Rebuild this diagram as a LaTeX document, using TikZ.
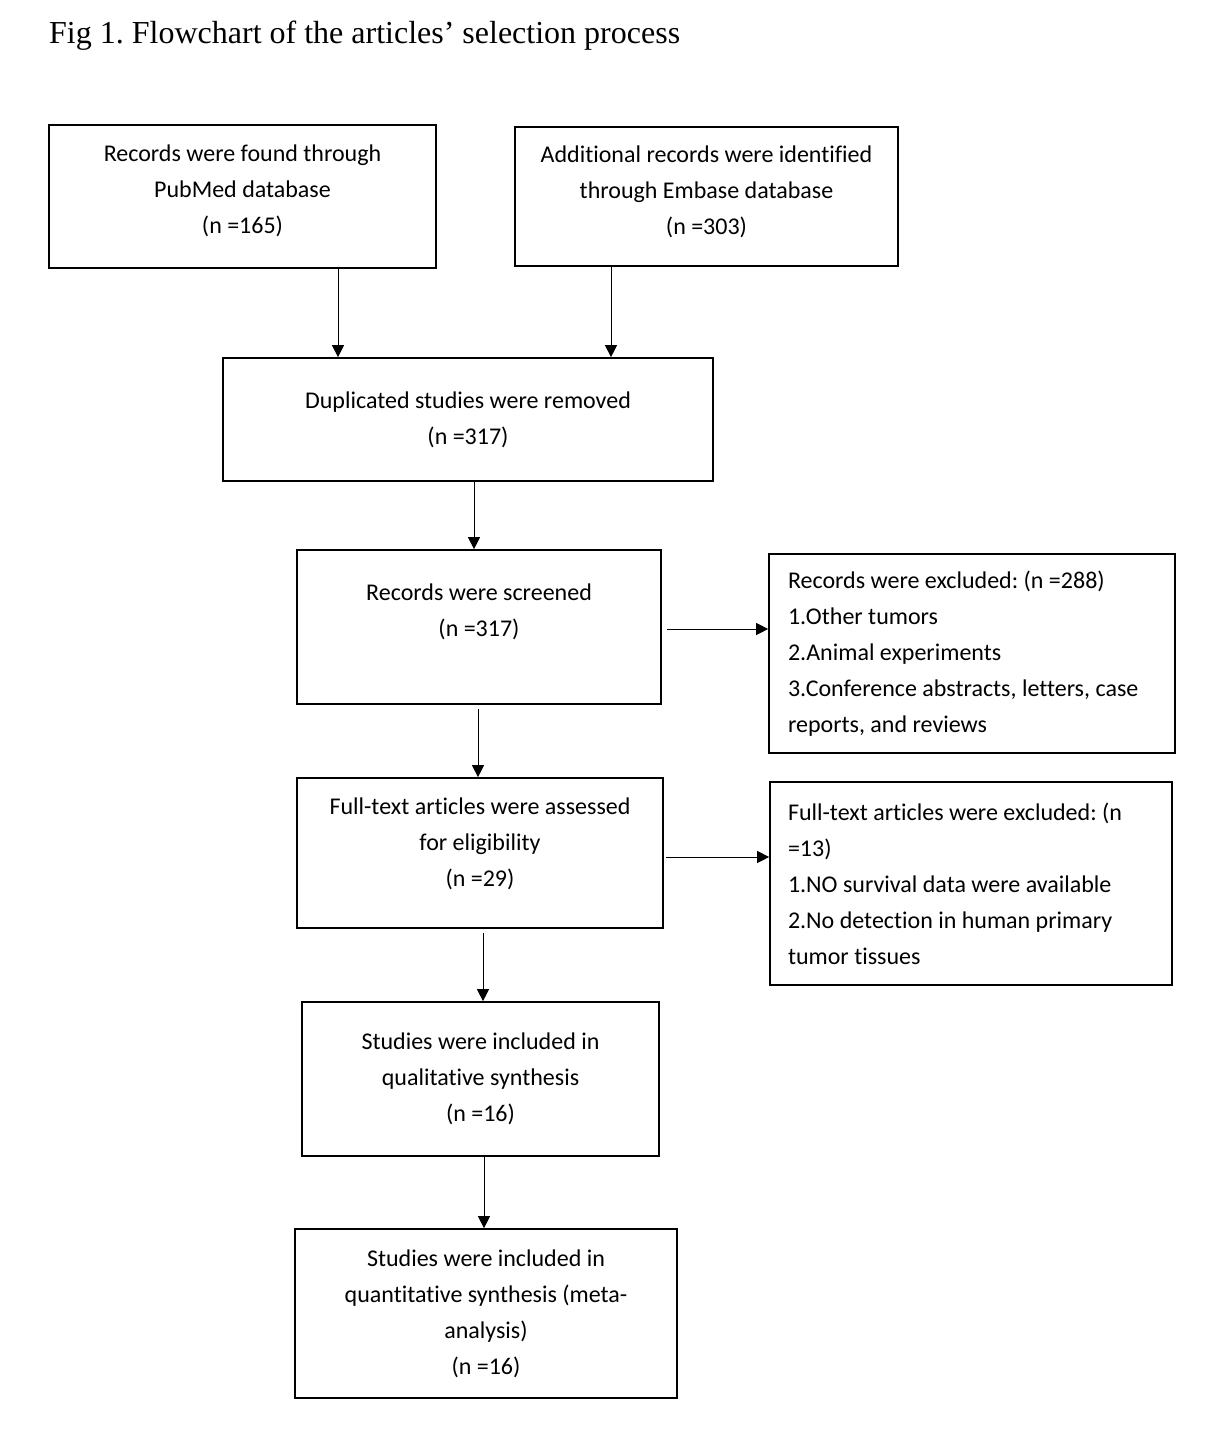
\documentclass[tikz,border=0pt]{standalone}
\usepackage{fontspec}
\setmainfont{Carlito}[Ligatures=NoCommon]
\newfontfamily\titlefont{Liberation Serif}
\usetikzlibrary{shapes,arrows,arrows.meta,positioning,calc}
\frenchspacing

\begin{document}
\begin{tikzpicture}[x=1pt, y=-1pt]
    \tikzstyle{record} = [rectangle, draw, line width=1.7pt, align=center, font=\fontsize{24}{36}\selectfont, inner sep=0pt]
    \tikzstyle{excluded} = [rectangle, draw, line width=1.7pt, align=flush left, font=\fontsize{24}{36}\selectfont, inner xsep=19pt, inner ysep=0pt]
    \tikzstyle{arrow} = [draw, -{Triangle[length=12pt,width=12pt]}, line width=1pt]

    \useasboundingbox (0,0) rectangle (1204,1455);

    % Title
    \node[anchor=base west, inner sep=0pt, font=\titlefont\fontsize{32}{36}\selectfont] (title) at (49,44) {Fig 1. Flowchart of the articles’ selection process};

    % Sources
    \node[record, minimum width=387pt, minimum height=143pt] (pubmed) at (242.5,196.5) {Records were found through\\PubMed database\\(n =165)\\[-21pt]\mbox{}};
    \node[record, minimum width=383pt, minimum height=139pt] (embase) at (706.5,196.5) {Additional records were identified\\through Embase database\\(n =303)\\[-24pt]\mbox{}};

    % Duplicates
    \node[record, minimum width=490pt, minimum height=123pt] (dedup) at (468,419.5) {Duplicated studies were removed\\(n =317)};

    % Screening
    \node[record, minimum width=364pt, minimum height=154pt] (screen) at (479,627) {Records were screened\\(n =317)\\[-2pt]\mbox{}};
    \node[excluded, text width=368pt, minimum height=199pt] (screenout) at (972,653.5) {Records were excluded: (n =288)\\1.Other tumors\\2.Animal experiments\\3.Conference abstracts, letters, case\\reports, and reviews};

    % Eligibility
    \node[record, minimum width=366pt, minimum height=150pt] (fulltext) at (480,853) {Full-text articles were assessed\\for eligibility\\(n =29)\\[-14pt]\mbox{}};
    \node[excluded, inner xsep=18pt, text width=366pt, minimum height=203pt] (fulltextout) at (971,883.5) {Full-text articles were excluded: (n\\=13)\\1.NO survival data were available\\2.No detection in human primary\\tumor tissues};

    % Included
    \node[record, minimum width=357pt, minimum height=154pt] (qualitative) at (480.5,1079) {Studies were included in\\qualitative synthesis\\(n =16)};
    \node[record, minimum width=382pt, minimum height=169pt] (quantitative) at (486,1313.5) {Studies were included in\\quantitative synthesis (meta-\\analysis)\\(n =16)};

    % Arrows
    \draw[arrow] ([xshift=95.5pt]pubmed.south) -- ([xshift=95.5pt]pubmed.south |- dedup.north);
    \draw[arrow] ([xshift=-95.5pt]embase.south) -- ([xshift=-95.5pt]embase.south |- dedup.north);
    \draw[arrow] ([xshift=6pt]dedup.south) -- ([xshift=6pt]dedup.south |- screen.north);
    \draw[arrow] ([shift={(5pt,-2pt)}]screen.east) -- ([yshift=-2pt]screen.east -| screenout.west);
    \draw[arrow] ([shift={(-1pt,-4pt)}]screen.south) -- ([xshift=-1pt]screen.south |- fulltext.north);
    \draw[arrow] ([shift={(2pt,-4pt)}]fulltext.east) -- ([yshift=-4pt]fulltext.east -| fulltextout.west);
    \draw[arrow] ([shift={(3pt,-4pt)}]fulltext.south) -- ([xshift=3pt]fulltext.south |- qualitative.north);
    \draw[arrow] ([xshift=3.5pt]qualitative.south) -- ([xshift=3.5pt]qualitative.south |- quantitative.north);
\end{tikzpicture}
\end{document}
